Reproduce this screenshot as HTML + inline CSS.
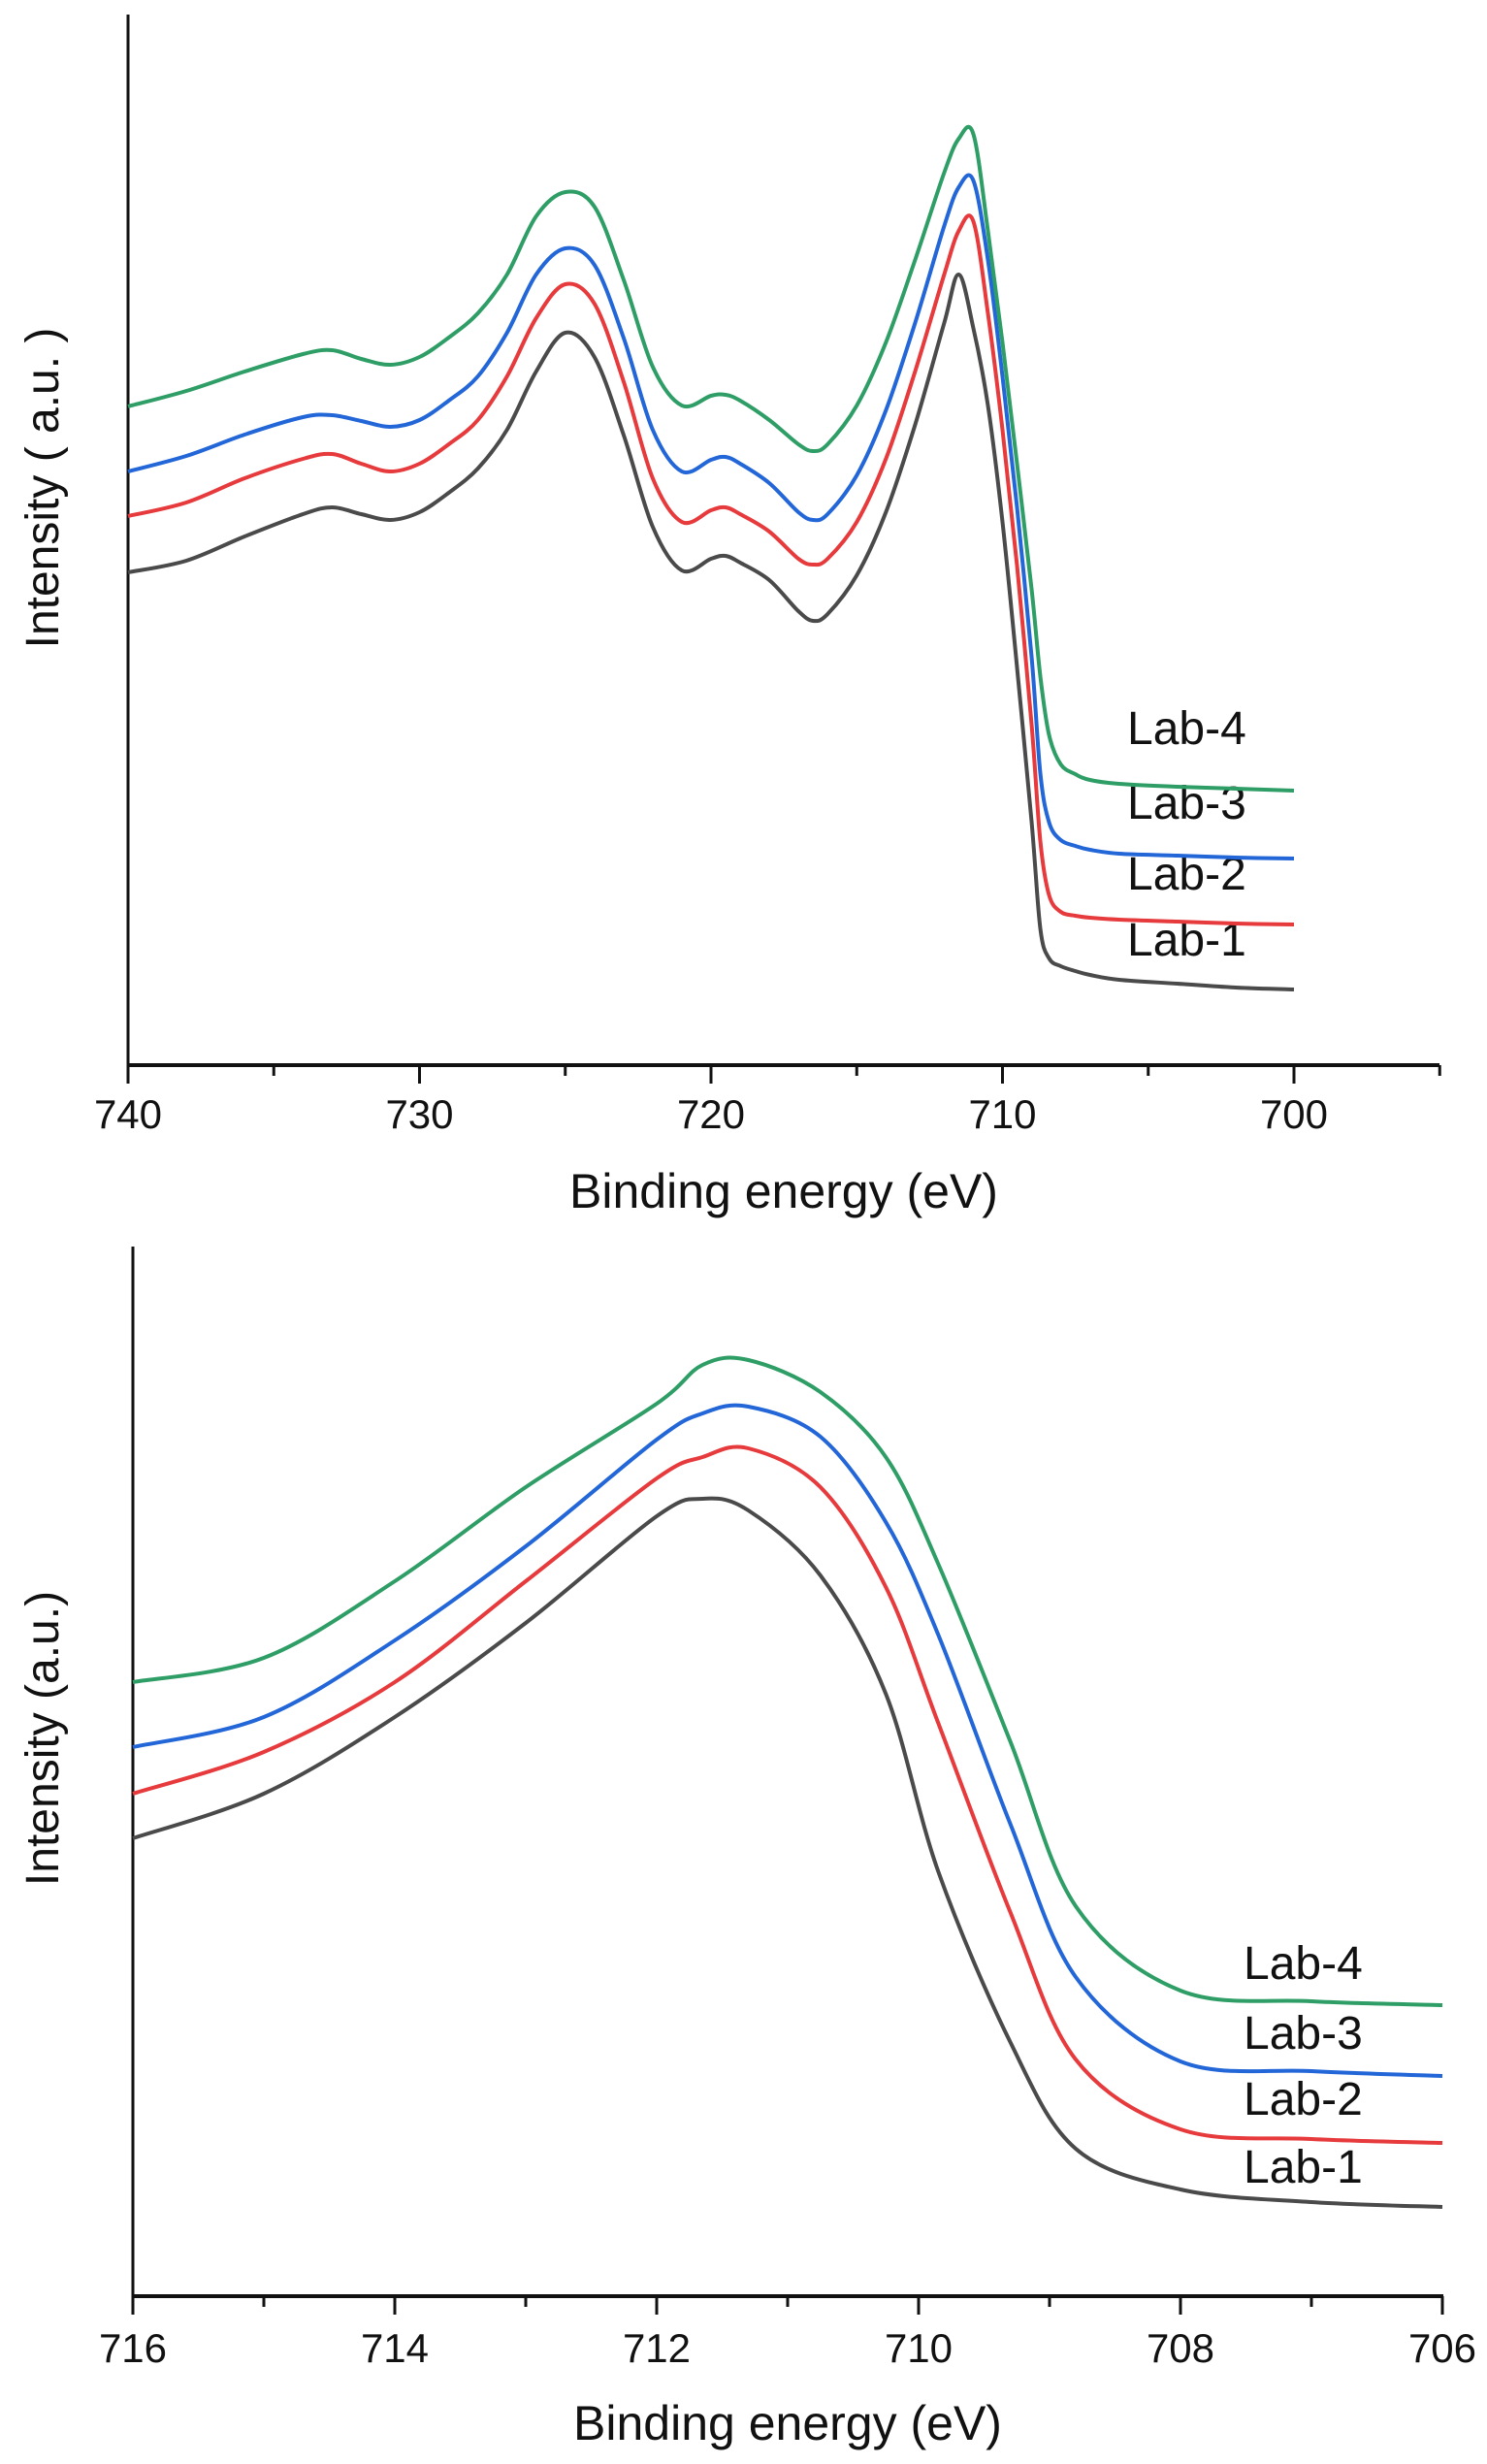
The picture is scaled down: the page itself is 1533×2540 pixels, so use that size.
<!DOCTYPE html>
<html><head><meta charset="utf-8">
<style>
html,body{margin:0;padding:0;background:#fff;}
svg{display:block;font-family:"Liberation Sans",Arial,sans-serif;}
</style></head>
<body>
<svg id="fig" width="1533" height="2540" viewBox="0 0 1533 2540" xmlns="http://www.w3.org/2000/svg">
<rect width="1533" height="2540" fill="#fff"/>
<g id="top"></g>
<g id="bot"></g>
</svg>
<script>
// ---- top chart data (Fe 2p full) ----
const topEnergy = [740,738,736,734,733,732,731,730,729,728,727,726,725,724,723,722,721,720,719.5,719,718,717,716.5,716,715,714,713,712,711.5,711,710.5,710,709.5,709,708.7,708.4,708,707.5,707,706,704,702,700];
const topLab1 = [508,520,545,568,575,568,562,570,590,615,655,715,755,730,650,555,510,522,525,518,500,468,458,465,505,570,660,765,815,760,680,560,410,250,140,110,102,97,93,88,84,80,78];
const topLab2 = [566,580,605,625,630,620,612,620,640,665,710,770,805,785,705,605,560,572,575,568,550,522,516,522,560,625,715,815,860,870,775,655,515,350,230,175,158,154,152,150,148,146,145];
const topLab3 = [612,628,650,668,670,664,658,665,685,710,755,815,842,825,750,655,612,624,627,620,600,570,562,568,608,675,765,865,905,912,830,710,575,420,300,250,232,226,222,218,216,214,213];
const topLab4 = [679,695,715,733,737,728,722,730,750,775,815,875,900,885,810,720,680,690,691,685,665,640,633,640,680,745,830,920,955,960,860,745,620,490,400,340,310,300,294,290,287,285,283];
const topTicks = [740,730,720,710,700];
const topMinor = [735,725,715,705,695];
// ---- bottom chart data (Fe 2p3/2 zoom) ----
const botEnergy = [716,715,714,713,712,711.65,711.3,710.75,710.25,709.85,709.3,708.8,708,707,706];
const botLab1 = [472,518,597,694,804,822,810,743,621,438,262,152,110,97,92];
const botLab2 = [518,561,633,737,843,865,874,834,731,591,396,244,172,162,158];
const botLab3 = [566,597,676,773,883,910,917,886,798,682,487,329,242,232,227];
const botLab4 = [633,658,737,834,920,960,965,932,865,755,572,402,315,304,300];
const botTicks = [716,714,712,710,708,706];
const botMinor = [715,713,711,709,707];
const seriesNames = ["Lab-1","Lab-2","Lab-3","Lab-4"];
const colors = ["#4a4a4a","#e63a3c","#2266d8","#2e9e66"];

const NS="http://www.w3.org/2000/svg";
function mk(tag,attrs,parent){const e=document.createElementNS(NS,tag);for(const k in attrs)e.setAttribute(k,attrs[k]);parent.appendChild(e);return e;}
function smoothPath(pts){
  let d="M"+pts[0][0].toFixed(1)+","+pts[0][1].toFixed(1);
  for(let i=0;i<pts.length-1;i++){
    const p0=pts[i-1]||pts[i],p1=pts[i],p2=pts[i+1],p3=pts[i+2]||p2;
    const c1=[p1[0]+(p2[0]-p0[0])/6,p1[1]+(p2[1]-p0[1])/6];
    const c2=[p2[0]-(p3[0]-p1[0])/6,p2[1]-(p3[1]-p1[1])/6];
    d+=" C"+c1[0].toFixed(1)+","+c1[1].toFixed(1)+" "+c2[0].toFixed(1)+","+c2[1].toFixed(1)+" "+p2[0].toFixed(1)+","+p2[1].toFixed(1);
  }
  return d;
}
function drawChart(g,cfg){
  const xS=v=>cfg.x0+(cfg.e0-v)/(cfg.e0-cfg.e1)*(cfg.x1-cfg.x0);
  const yS=v=>cfg.yb-v;
  const ya=mk("line",{x1:cfg.x0,y1:cfg.yt,x2:cfg.x0,y2:cfg.yb,stroke:"#111","stroke-width":3},g);
  
  
  const xa=mk("line",{x1:cfg.x0-1,y1:cfg.yb,x2:cfg.xEnd,y2:cfg.yb,stroke:"#111","stroke-width":4},g);
  
  
  cfg.ticks.forEach(t=>{
    const l=mk("line",{x1:xS(t),y1:cfg.yb,x2:xS(t),y2:cfg.yb+19,stroke:"#111","stroke-width":3},g);
    
    
    const tx=mk("text",{x:xS(t),y:cfg.tickY,"font-size":42,"text-anchor":"middle",fill:"#111"},g);
    tx.textContent=t;
    
    
  });
  cfg.minor.forEach(t=>{
    const l=mk("line",{x1:xS(t),y1:cfg.yb,x2:xS(t),y2:cfg.yb+11,stroke:"#111","stroke-width":3},g);
    
    
  });
  const xt=mk("text",{x:cfg.titleX,y:cfg.titleY,"font-size":50,"text-anchor":"middle",fill:"#111"},g);
  xt.textContent="Binding energy (eV)";
  
  
  const yt=mk("text",{x:0,y:0,"font-size":48,"text-anchor":"middle",fill:"#111",transform:"translate("+(cfg.ytX)+","+cfg.ytY+") rotate(-90)"},g);
  yt.textContent=cfg.yTitle;
  
  
  cfg.series.forEach((s,i)=>{
    const pts=cfg.energy.map((e,j)=>[xS(e),yS(s[j])]);
    const p=mk("path",{d:smoothPath(pts),fill:"none",stroke:colors[i],"stroke-width":4,"stroke-linejoin":"round"},g);
    
    
    const lb=mk("text",{x:cfg.labX,y:cfg.labY[i],"font-size":48,fill:"#111"},g);
    lb.textContent=seriesNames[i];
    
    
  });
}
drawChart(document.getElementById("top"),{
  x0:132,x1:1334,e0:740,e1:700,xEnd:1484,yt:15,yb:1098,
  ticks:topTicks,minor:topMinor,tickY:1163,titleX:808,titleY:1245,
  ytX:60,ytY:503,yTitle:"Intensity ( a.u. )",
  energy:topEnergy,series:[topLab1,topLab2,topLab3,topLab4],
  labX:1162,labY:[985,917,844,767]
});
drawChart(document.getElementById("bot"),{
  x0:137,x1:1487,e0:716,e1:706,xEnd:1488,yt:1285,yb:2367,
  ticks:botTicks,minor:botMinor,tickY:2435,titleX:812,titleY:2515,
  ytX:60,ytY:1792,yTitle:"Intensity (a.u.)",
  energy:botEnergy,series:[botLab1,botLab2,botLab3,botLab4],
  labX:1282,labY:[2250,2180,2112,2040]
});
</script>
</body></html>
